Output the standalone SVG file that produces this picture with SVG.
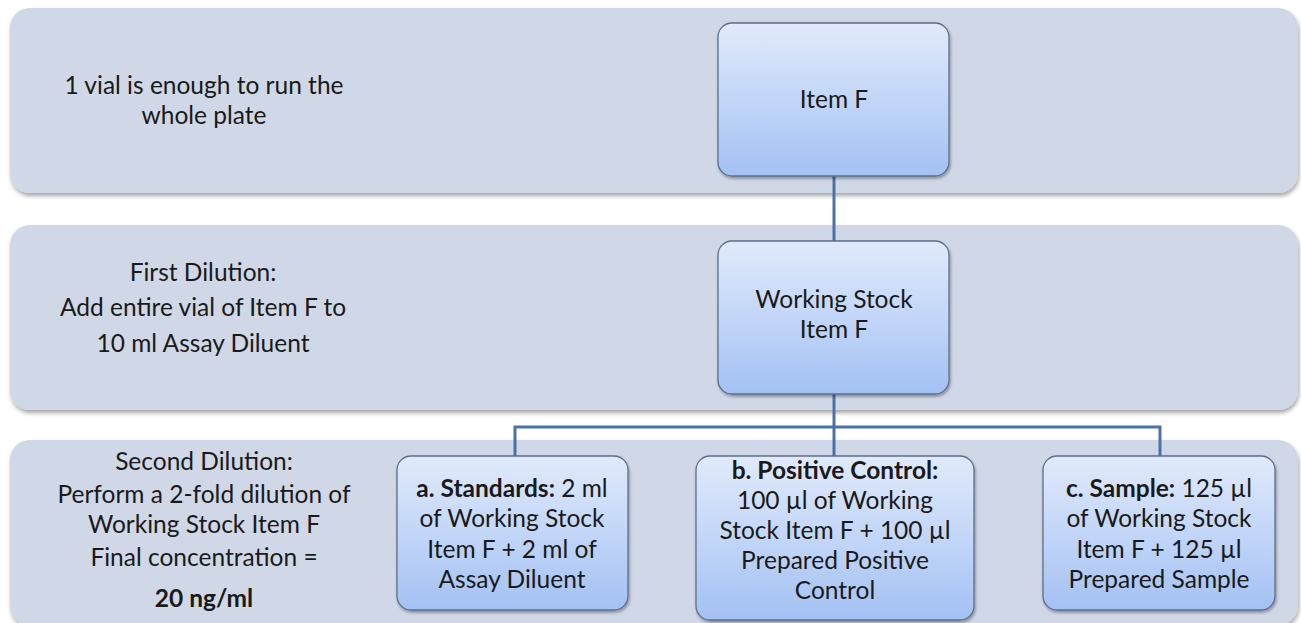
<svg xmlns="http://www.w3.org/2000/svg" width="1301" height="623" viewBox="0 0 1301 623">
<defs>
<linearGradient id="boxGrad" x1="0" y1="0" x2="0" y2="1">
<stop offset="0" stop-color="#e1eafb"/>
<stop offset="0.6" stop-color="#bcd2f7"/>
<stop offset="1" stop-color="#a3c1f3"/>
</linearGradient>
<filter id="shadow" x="-5%" y="-5%" width="110%" height="120%">
<feDropShadow dx="1" dy="3" stdDeviation="2" flood-color="#000" flood-opacity="0.35"/>
</filter>
<filter id="bshadow" x="-5%" y="-5%" width="110%" height="120%">
<feDropShadow dx="1" dy="2" stdDeviation="1.5" flood-color="#000" flood-opacity="0.35"/>
</filter>
</defs>
<style>
.band{fill:#d0d7e6;filter:url(#shadow);}
.box{fill:url(#boxGrad);stroke:#5e6f8c;stroke-width:1.3;filter:url(#bshadow);}
.conn{fill:none;stroke:#4a72a6;stroke-width:3;}
text{font-family:Lato,"Liberation Sans",sans-serif;fill:#1a1a1a;text-anchor:middle;}
.t{font-size:24.5px;}
.b{font-weight:bold;}
</style>
<rect width="1301" height="623" fill="#ffffff"/>
<g id="band1"><rect class="band" x="10" y="8" width="1288" height="185" rx="20"/>
<text class="t" x="204" y="94">1 vial is enough to run the</text>
<text class="t" x="204" y="124">whole plate</text></g>
<g id="band2"><rect class="band" x="10" y="225" width="1288" height="185" rx="20"/>
<text class="t" x="203" y="281">First Dilution:</text>
<text class="t" x="203" y="316">Add entire vial of Item F to</text>
<text class="t" x="203" y="352">10 ml Assay Diluent</text></g>
<g id="band3"><rect class="band" x="10" y="440" width="1288" height="185" rx="20"/>
<text class="t" x="204" y="470">Second Dilution:</text>
<text class="t" x="204" y="503">Perform a 2-fold dilution of</text>
<text class="t" x="204" y="533">Working Stock Item F</text>
<text class="t" x="204" y="566">Final concentration =</text>
<text class="t b" x="204" y="607">20 ng/ml</text></g>
<g id="connectors">
<line class="conn" x1="834" y1="176" x2="834" y2="241"/>
<line class="conn" x1="834" y1="394" x2="834" y2="456"/>
<polyline class="conn" points="515,456 515,427 1160,427 1160,456"/>
</g>
<g id="itemF"><rect class="box" x="718" y="23" width="231" height="153" rx="14"/>
<text class="t" x="834" y="108">Item F</text></g>
<g id="workingStock"><rect class="box" x="718" y="241" width="231" height="153" rx="14"/>
<text class="t" x="834" y="308">Working Stock</text>
<text class="t" x="834" y="338">Item F</text></g>
<g id="standards"><rect class="box" x="397" y="456" width="231" height="154" rx="14"/>
<text class="t" x="512" y="497"><tspan class="b">a. Standards:</tspan> 2 ml</text>
<text class="t" x="512" y="527">of Working Stock</text>
<text class="t" x="512" y="558">Item F + 2 ml of</text>
<text class="t" x="512" y="588">Assay Diluent</text></g>
<g id="positiveControl"><rect class="box" x="696" y="456" width="278" height="164" rx="14"/>
<text class="t" x="835" y="479"><tspan class="b">b. Positive Control:</tspan></text>
<text class="t" x="835" y="509">100 µl of Working</text>
<text class="t" x="835" y="539">Stock Item F + 100 µl</text>
<text class="t" x="835" y="569">Prepared Positive</text>
<text class="t" x="835" y="599">Control</text></g>
<g id="sample"><rect class="box" x="1043" y="456" width="232" height="154" rx="14"/>
<text class="t" x="1159" y="497"><tspan class="b">c. Sample:</tspan> 125 µl</text>
<text class="t" x="1159" y="527">of Working Stock</text>
<text class="t" x="1159" y="558">Item F + 125 µl</text>
<text class="t" x="1159" y="588">Prepared Sample</text></g>
</svg>
